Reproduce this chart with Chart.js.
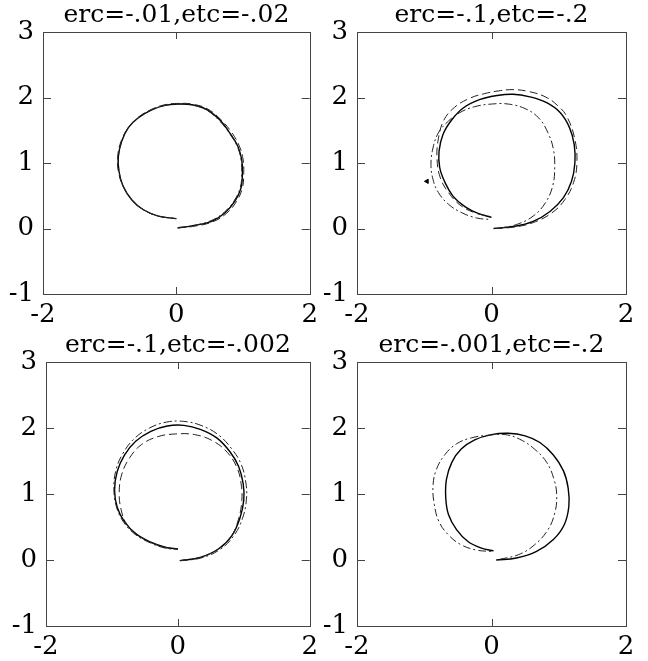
<!DOCTYPE html>
<html>
<head>
<meta charset="utf-8">
<script src="https://cdn.jsdelivr.net/npm/chart.js@4/dist/chart.umd.min.js"></script>
<style>
  html, body { margin: 0; padding: 0; background: #fff; }
  #wrap { position: relative; width: 648px; height: 661px; }
  canvas { position: absolute; }
</style>
</head>
<body>
<div id="wrap">
  <canvas id="c1" width="324" height="330" style="left:0;top:0"></canvas>
  <canvas id="c2" width="324" height="330" style="left:324px;top:0"></canvas>
  <canvas id="c3" width="324" height="331" style="left:0;top:330px"></canvas>
  <canvas id="c4" width="324" height="331" style="left:324px;top:330px"></canvas>
</div>
<script>
// titulos y marcas de los ejes
const titulos = ['erc=-.01,etc=-.02', 'erc=-.1,etc=-.2', 'erc=-.1,etc=-.002', 'erc=-.001,etc=-.2'];
const ticksX = [-2, 0, 2];
const ticksY = [-1, 0, 1, 2, 3];

// trayectorias [x, y] de cada panel
const p1Solida = [[0.02,0.01],[0.23,0.04],[0.53,0.11],[0.73,0.24],[0.88,0.42],[0.97,0.62],[0.99,0.85],[0.98,1.05],[0.92,1.26],[0.80,1.46],[0.65,1.66],[0.45,1.82],[0.23,1.89],[0.03,1.90],[-0.17,1.88],[-0.37,1.81],[-0.57,1.69],[-0.72,1.54],[-0.82,1.33],[-0.87,1.10],[-0.86,0.87],[-0.80,0.65],[-0.67,0.44],[-0.50,0.29],[-0.27,0.19],[0.00,0.15]];
const p1Guion = [[0.02,0.01],[0.24,0.03],[0.54,0.10],[0.75,0.23],[0.90,0.41],[0.99,0.62],[1.01,0.85],[1.00,1.06],[0.94,1.27],[0.82,1.48],[0.66,1.67],[0.46,1.83],[0.23,1.90],[0.03,1.91],[-0.17,1.89],[-0.37,1.82],[-0.57,1.70],[-0.72,1.54],[-0.83,1.33],[-0.88,1.10],[-0.87,0.87],[-0.80,0.65],[-0.67,0.44],[-0.50,0.29],[-0.27,0.19],[0.00,0.15]];
const p1Punto = [[0.02,0.01],[0.23,0.04],[0.52,0.12],[0.72,0.25],[0.87,0.43],[0.96,0.63],[0.98,0.85],[0.97,1.05],[0.91,1.26],[0.79,1.46],[0.64,1.65],[0.45,1.81],[0.23,1.89],[0.03,1.90],[-0.17,1.88],[-0.37,1.81],[-0.57,1.69],[-0.72,1.54],[-0.82,1.33],[-0.87,1.10],[-0.86,0.87],[-0.80,0.65],[-0.67,0.44],[-0.50,0.29],[-0.27,0.19],[0.00,0.15]];

const p2Solida = [[0.03,0.00],[0.32,0.03],[0.62,0.11],[0.87,0.26],[1.07,0.47],[1.19,0.72],[1.24,1.00],[1.23,1.28],[1.16,1.54],[1.02,1.77],[0.82,1.92],[0.57,2.01],[0.32,2.05],[0.08,2.03],[-0.17,1.97],[-0.42,1.84],[-0.59,1.66],[-0.72,1.44],[-0.78,1.18],[-0.77,0.93],[-0.69,0.70],[-0.57,0.49],[-0.39,0.33],[-0.20,0.23],[0.00,0.17]];
const p2Guion = [[0.05,0.00],[0.32,0.02],[0.62,0.09],[0.90,0.24],[1.09,0.44],[1.22,0.70],[1.27,1.00],[1.24,1.36],[1.12,1.71],[0.98,1.88],[0.80,2.01],[0.56,2.09],[0.32,2.12],[0.10,2.10],[-0.10,2.06],[-0.32,1.99],[-0.55,1.85],[-0.71,1.65],[-0.79,1.37],[-0.81,1.06],[-0.76,0.77],[-0.64,0.55],[-0.47,0.36],[-0.25,0.24],[-0.01,0.18]];
const p2Punto = [[0.10,0.00],[0.37,0.06],[0.62,0.19],[0.80,0.39],[0.91,0.65],[0.94,0.93],[0.92,1.21],[0.84,1.46],[0.70,1.69],[0.50,1.83],[0.25,1.90],[0.00,1.90],[-0.25,1.86],[-0.47,1.77],[-0.64,1.64],[-0.79,1.46],[-0.87,1.23],[-0.90,0.98],[-0.87,0.75],[-0.79,0.55],[-0.64,0.37],[-0.44,0.24],[-0.22,0.16],[-0.05,0.14]];
const p2Marca = [[-0.96,0.72]];

const p3Solida = [[0.03,-0.01],[0.34,0.04],[0.62,0.17],[0.82,0.37],[0.94,0.63],[1.00,0.91],[0.99,1.16],[0.92,1.42],[0.79,1.64],[0.59,1.85],[0.34,1.98],[0.09,2.04],[-0.16,2.03],[-0.41,1.95],[-0.64,1.80],[-0.81,1.59],[-0.92,1.34],[-0.96,1.06],[-0.92,0.80],[-0.81,0.58],[-0.64,0.40],[-0.41,0.27],[-0.18,0.19],[0.00,0.17]];
const p3Guion = [[0.03,-0.01],[0.35,0.03],[0.64,0.16],[0.85,0.37],[0.98,0.63],[1.04,0.92],[1.03,1.18],[0.96,1.45],[0.82,1.68],[0.61,1.90],[0.35,2.04],[0.09,2.10],[-0.17,2.09],[-0.43,2.00],[-0.66,1.84],[-0.83,1.62],[-0.94,1.36],[-0.97,1.07],[-0.93,0.80],[-0.82,0.57],[-0.65,0.39],[-0.42,0.26],[-0.19,0.18],[0.00,0.16]];
const p3Punto = [[0.03,-0.01],[0.34,0.04],[0.62,0.17],[0.81,0.36],[0.92,0.62],[0.97,0.90],[0.96,1.15],[0.90,1.39],[0.75,1.63],[0.52,1.81],[0.25,1.90],[-0.03,1.91],[-0.30,1.87],[-0.55,1.75],[-0.73,1.55],[-0.85,1.30],[-0.89,1.02],[-0.86,0.76],[-0.78,0.55],[-0.62,0.39],[-0.40,0.26],[-0.18,0.19],[0.00,0.17]];

const p4Solida = [[0.07,0.00],[0.37,0.03],[0.67,0.13],[0.92,0.31],[1.08,0.53],[1.15,0.81],[1.14,1.09],[1.07,1.35],[0.92,1.59],[0.72,1.78],[0.50,1.88],[0.25,1.92],[0.00,1.90],[-0.25,1.82],[-0.45,1.68],[-0.59,1.48],[-0.67,1.22],[-0.68,0.94],[-0.64,0.69],[-0.52,0.46],[-0.35,0.28],[-0.15,0.18],[0.03,0.14]];
const p4Guion = [[0.12,0.01],[0.40,0.08],[0.64,0.23],[0.84,0.46],[0.94,0.71],[0.97,0.97],[0.93,1.22],[0.82,1.48],[0.64,1.68],[0.42,1.83],[0.20,1.90],[-0.05,1.89],[-0.30,1.85],[-0.52,1.76],[-0.69,1.60],[-0.82,1.37],[-0.87,1.12],[-0.85,0.84],[-0.78,0.58],[-0.64,0.38],[-0.45,0.23],[-0.22,0.15],[0.00,0.13]];

Chart.defaults.font.family = '"DejaVu Serif", serif';
Chart.defaults.color = '#000';

// estilos de linea
const SOLIDA = { borderColor: '#000', borderWidth: 1.4, borderDash: [] };
const GUION = { borderColor: '#222', borderWidth: 1, borderDash: [8, 4] };
const PUNTO = { borderColor: '#222', borderWidth: 1, borderDash: [8, 3, 2, 3] };

function serie(puntos, estilo) {
    return Object.assign({
        data: puntos.map(([x, y]) => ({ x, y })),
        showLine: true,
        pointRadius: 0,
        tension: 0.4,
        fill: false
    }, estilo);
}

// marco completo y marcas hacia dentro
const marco = {
    id: 'marco',
    afterDatasetsDraw(chart) {
        const { ctx, chartArea: a, scales: { x, y } } = chart;
        ctx.save();
        ctx.strokeStyle = '#444';
        ctx.lineWidth = 1;
        ctx.strokeRect(Math.round(a.left) + 0.5, Math.round(a.top) + 0.5, Math.round(a.width), Math.round(a.height));
        ctx.beginPath();
        x.ticks.forEach(t => {
            const px = Math.round(x.getPixelForValue(t.value)) + 0.5;
            ctx.moveTo(px, a.top); ctx.lineTo(px, a.top + 7);
            ctx.moveTo(px, a.bottom); ctx.lineTo(px, a.bottom - 7);
        });
        y.ticks.forEach(t => {
            const py = Math.round(y.getPixelForValue(t.value)) + 0.5;
            ctx.moveTo(a.left, py); ctx.lineTo(a.left + 8, py);
            ctx.moveTo(a.right, py); ctx.lineTo(a.right - 8, py);
        });
        ctx.stroke();
        ctx.restore();
    }
};

function crearPanel(id, titulo, datasets, anchoY, altoX, margenDer) {
    new Chart(document.getElementById(id), {
        type: 'scatter',
        data: { datasets },
        options: {
            responsive: false,
            animation: false,
            layout: { padding: { left: 0, right: margenDer, top: 0, bottom: 0 } },
            plugins: {
                legend: { display: false },
                tooltip: { enabled: false },
                title: {
                    display: true,
                    text: titulo,
                    fullSize: false,
                    font: { size: 25, weight: 'normal', lineHeight: 1 },
                    padding: { top: 3, bottom: 4 }
                }
            },
            scales: {
                x: {
                    type: 'linear', min: -2, max: 2,
                    afterBuildTicks: s => { s.ticks = ticksX.map(v => ({ value: v })); },
                    afterFit: s => { s.height = altoX; },
                    grid: { display: false, drawTicks: false },
                    border: { display: false },
                    ticks: { font: { size: 26 }, padding: 6, maxRotation: 0 }
                },
                y: {
                    type: 'linear', min: -1, max: 3,
                    afterBuildTicks: s => { s.ticks = ticksY.map(v => ({ value: v })); },
                    afterFit: s => { s.width = anchoY; },
                    grid: { display: false, drawTicks: false },
                    border: { display: false },
                    ticks: { font: { size: 26 }, padding: 9 }
                }
            }
        },
        plugins: [marco]
    });
}

crearPanel('c1', titulos[0], [serie(p1Punto, PUNTO), serie(p1Guion, GUION), serie(p1Solida, SOLIDA)], 43, 36, 14);
crearPanel('c2', titulos[1], [
    serie(p2Punto, PUNTO), serie(p2Guion, GUION), serie(p2Solida, SOLIDA),
    { data: p2Marca.map(([x, y]) => ({ x, y })), pointStyle: 'triangle', pointRadius: 2.5, rotation: -90, backgroundColor: '#000', borderColor: '#000' }
], 33, 36, 22);
crearPanel('c3', titulos[2], [serie(p3Punto, GUION), serie(p3Guion, PUNTO), serie(p3Solida, SOLIDA)], 46, 35, 12);
crearPanel('c4', titulos[3], [serie(p4Guion, PUNTO), serie(p4Solida, SOLIDA)], 33, 35, 22);
</script>
</body>
</html>
